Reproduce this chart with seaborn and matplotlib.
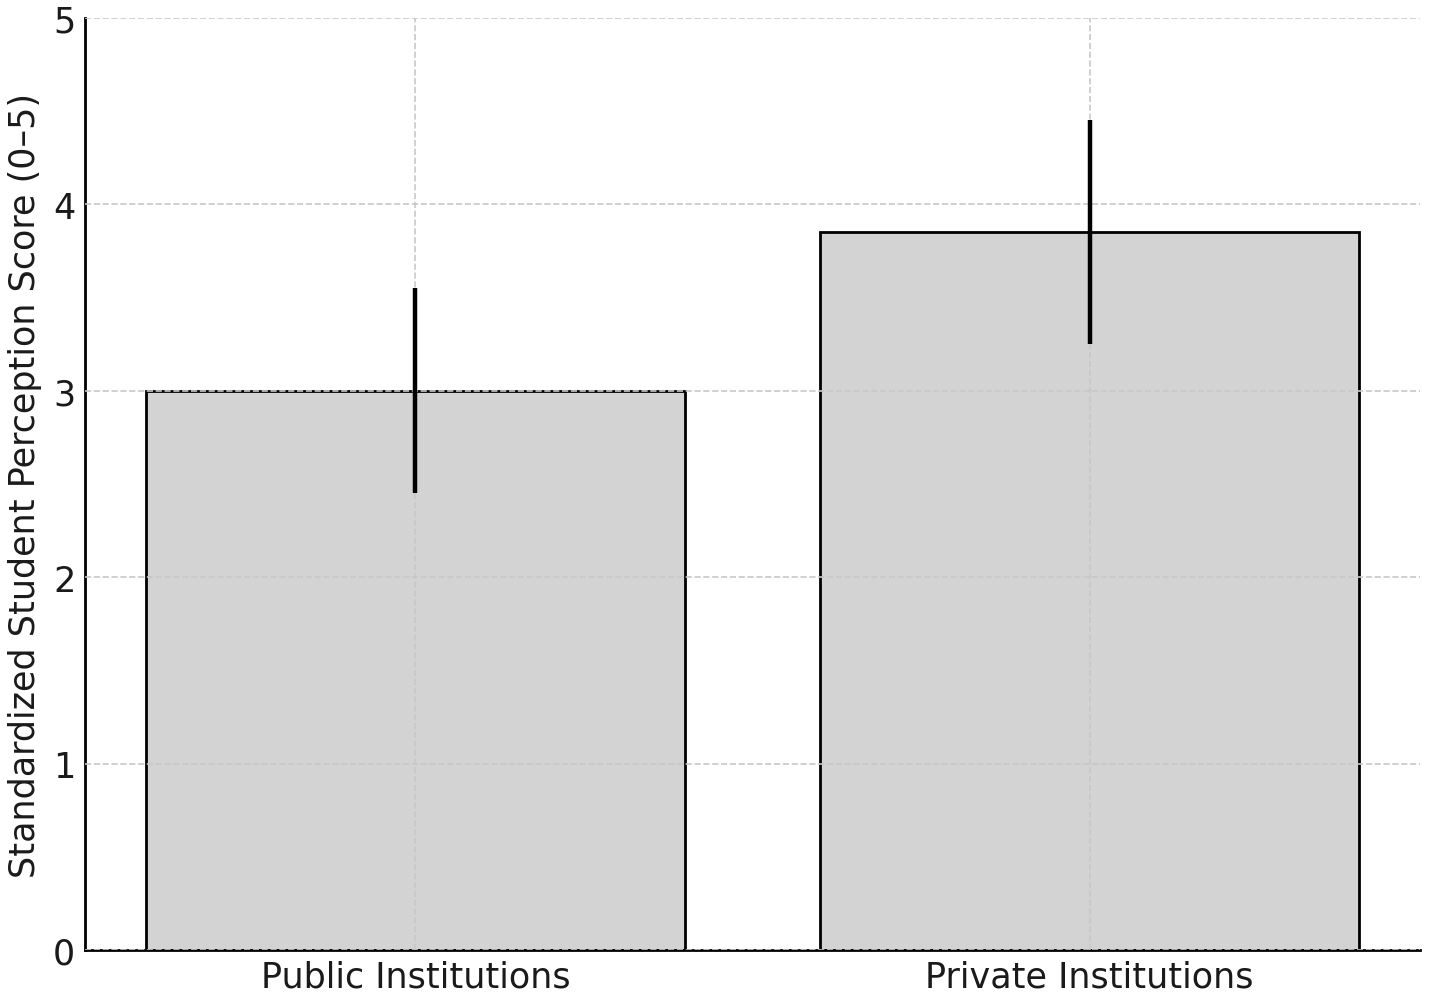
import matplotlib
matplotlib.use("Agg")
import matplotlib.pyplot as plt
import seaborn as sns
import pandas as pd

categories = ["Public Institutions", "Private Institutions"]
means = [3.0, 3.85]
errors = [0.55, 0.6]
y_ticks = [0, 1, 2, 3, 4, 5]

sns.set_style("white")
plt.rcParams['font.family'] = ['DejaVu Sans']

df = pd.DataFrame({"Institution": categories, "Score": means})

fig, ax = plt.subplots(figsize=(7.145, 4.975), dpi=200)
sns.barplot(data=df, x="Institution", y="Score", color="lightgray", saturation=1,
            edgecolor="black", linewidth=1.0, width=0.8, errorbar=None, ax=ax)
ax.errorbar(x=list(range(len(categories))), y=means, yerr=errors, fmt="none",
            ecolor="black", elinewidth=1.6, capsize=0, zorder=5)

ax.set_ylim(0, 5)
ax.set_xlim(-0.49, 1.49)
ax.set_yticks(y_ticks)
ax.set_xlabel("")
ax.set_ylabel("Standardized Student Perception Score (0–5)", fontsize=12.6,
              color="#1a1a1a", labelpad=4)
ax.tick_params(axis="both", direction="in", labelsize=12.6, length=4, width=1,
               colors="black", labelcolor="#1a1a1a")
ax.grid(True, linestyle="--", color="#c8c8c8", linewidth=0.6)
ax.set_axisbelow(False)
sns.despine(ax=ax)
for s in ["left", "bottom"]:
    ax.spines[s].set_color("black")
    ax.spines[s].set_linewidth(1.0)

fig.subplots_adjust(left=0.0595, right=0.9937, top=0.981, bottom=0.0442)
fig.savefig("out.png", dpi=200)
